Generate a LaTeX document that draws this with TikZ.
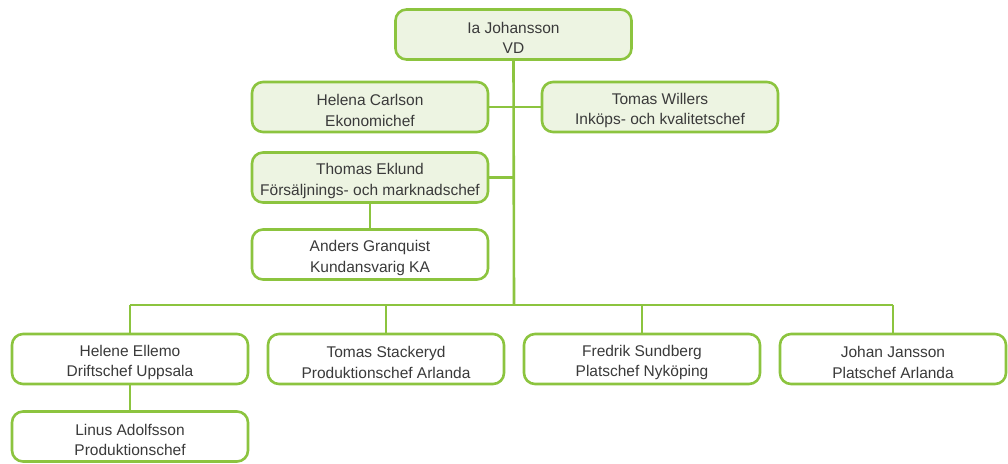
\documentclass[tikz,border=0pt]{standalone}
\usepackage{fontspec}
\setmainfont{Liberation Sans}
\usetikzlibrary{backgrounds}
\definecolor{gline}{HTML}{8CC43F}
\definecolor{gfill}{HTML}{EDF4E2}
\definecolor{tgray}{HTML}{3A3A3A}
\tikzset{
  box/.style={draw=gline, line width=2.6bp, rounded corners=11bp, minimum width=236bp,
    minimum height=50bp, inner sep=0pt},
  lbl/.style={align=center, inner sep=0pt, text=tgray, yshift=-3.5bp,
    font=\fontsize{15.5bp}{20.5bp}\selectfont},
  gbox/.style={box, fill=gfill, label={[lbl]center:#1}},
  wbox/.style={box, fill=white, label={[lbl]center:#1}},
  conn/.style={draw=gline, line width=2.6bp}
}
\begin{document}
\begin{tikzpicture}[x=1bp,y=-1bp]
\useasboundingbox (0,0) rectangle (1008,464);
\node[gbox={Ia Johansson\\VD}] (vd) at (513.5,34.5) {};
\node[gbox={Helena Carlson\\Ekonomichef}] (hc) at (370,107) {};
\node[gbox={Tomas Willers\\Inköps- och kvalitetschef}] (tw) at (660,107) {};
\node[gbox={Thomas Eklund\\Försäljnings- och marknadschef}] (te) at (370,177.5) {};
\node[wbox={Anders Granquist\\Kundansvarig KA}] (ag) at (370,254.5) {};
\node[wbox={Helene Ellemo\\Driftschef Uppsala}] (he) at (130,359) {};
\node[wbox={Tomas Stackeryd\\Produktionschef Arlanda}] (ts) at (386,359) {};
\node[wbox={Fredrik Sundberg\\Platschef Nyköping}] (fs) at (642,359) {};
\node[wbox={Johan Jansson\\Platschef Arlanda}, minimum width=226bp] (jj) at (893,359) {};
\node[wbox={Linus Adolfsson\\Produktionschef}] (la) at (130,436.5) {};
\coordinate (bus) at (514,305);
\coordinate (busL) at (130,305);
\coordinate (busR) at (893,305);
\begin{scope}[on background layer]
\draw[conn] (vd.south) -- (bus);
\draw[conn] (hc.east) -- (hc.east -| vd.south);
\draw[conn] (tw.west) -- (tw.west -| vd.south);
\draw[conn] (te.east) -- (te.east -| vd.south);
\draw[conn] (te.south) -- (ag.north);
\draw[conn] (busL) -- (busR);
\draw[conn] (busL) -- (he.north);
\draw[conn] (ts.north |- bus) -- (ts.north);
\draw[conn] (fs.north |- bus) -- (fs.north);
\draw[conn] (busR) -- (jj.north);
\draw[conn] (he.south) -- (la.north);
\end{scope}
\end{tikzpicture}
\end{document}
